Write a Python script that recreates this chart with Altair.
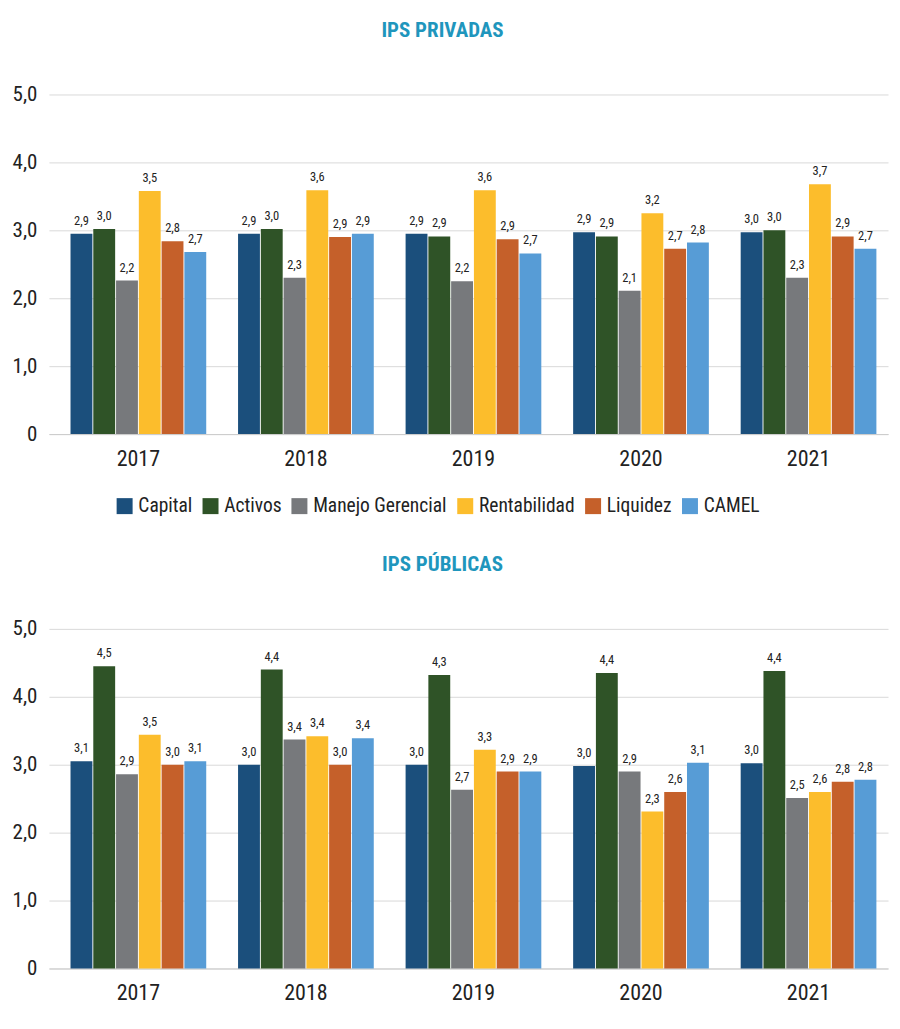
import altair as alt
import pandas as pd

years = ["2017", "2018", "2019", "2020", "2021"]
series = ["Capital", "Activos", "Manejo Gerencial", "Rentabilidad", "Liquidez", "CAMEL"]
colors = ["#1b4f7c", "#2f5327", "#77797c", "#fcbd2c", "#c5602a", "#579cd6"]

# IPS PRIVADAS
priv_capital = [2.95, 2.95, 2.95, 2.97, 2.97]
priv_activos = [3.02, 3.02, 2.91, 2.91, 3.00]
priv_gerencial = [2.26, 2.30, 2.25, 2.11, 2.30]
priv_rentab = [3.58, 3.59, 3.59, 3.25, 3.68]
priv_liquidez = [2.84, 2.90, 2.87, 2.73, 2.91]
priv_camel = [2.68, 2.95, 2.66, 2.82, 2.73]
priv_lab_capital = ["2,9", "2,9", "2,9", "2,9", "3,0"]
priv_lab_activos = ["3,0", "3,0", "2,9", "2,9", "3,0"]
priv_lab_gerencial = ["2,2", "2,3", "2,2", "2,1", "2,3"]
priv_lab_rentab = ["3,5", "3,6", "3,6", "3,2", "3,7"]
priv_lab_liquidez = ["2,8", "2,9", "2,9", "2,7", "2,9"]
priv_lab_camel = ["2,7", "2,9", "2,7", "2,8", "2,7"]

# IPS PUBLICAS
pub_capital = [3.05, 3.00, 3.00, 2.98, 3.02]
pub_activos = [4.45, 4.40, 4.32, 4.35, 4.38]
pub_gerencial = [2.86, 3.37, 2.63, 2.90, 2.51]
pub_rentab = [3.44, 3.42, 3.22, 2.31, 2.60]
pub_liquidez = [3.00, 3.00, 2.90, 2.60, 2.75]
pub_camel = [3.05, 3.39, 2.90, 3.03, 2.78]
pub_lab_capital = ["3,1", "3,0", "3,0", "3,0", "3,0"]
pub_lab_activos = ["4,5", "4,4", "4,3", "4,4", "4,4"]
pub_lab_gerencial = ["2,9", "3,4", "2,7", "2,9", "2,5"]
pub_lab_rentab = ["3,5", "3,4", "3,3", "2,3", "2,6"]
pub_lab_liquidez = ["3,0", "3,0", "2,9", "2,6", "2,8"]
pub_lab_camel = ["3,1", "3,4", "2,9", "3,1", "2,8"]

FONT = "Roboto Condensed, Liberation Sans Narrow, DejaVu Sans Condensed, Roboto, sans-serif"


def make_df(vals, labs):
    rows = []
    for s, v, l in zip(series, vals, labs):
        for y, vv, ll in zip(years, v, l):
            rows.append({"year": y, "serie": s, "valor": vv, "label": ll})
    return pd.DataFrame(rows)


df_priv = make_df(
    [priv_capital, priv_activos, priv_gerencial, priv_rentab, priv_liquidez, priv_camel],
    [priv_lab_capital, priv_lab_activos, priv_lab_gerencial, priv_lab_rentab, priv_lab_liquidez, priv_lab_camel],
)
df_pub = make_df(
    [pub_capital, pub_activos, pub_gerencial, pub_rentab, pub_liquidez, pub_camel],
    [pub_lab_capital, pub_lab_activos, pub_lab_gerencial, pub_lab_rentab, pub_lab_liquidez, pub_lab_camel],
)

ylab = "datum.value == 0 ? '0' : replace(format(datum.value, '.1f'), '.', ',')"


def panel(df, title, show_legend):
    base = alt.Chart(df).encode(
        x=alt.X(
            "year:N",
            sort=years,
            title=None,
            scale=alt.Scale(paddingInner=0.19, paddingOuter=0.099, align=0.65),
            axis=alt.Axis(
                labelAngle=0, labelFontSize=22, labelFont=FONT, labelColor="#222",
                ticks=False, domainColor="#cccccc", labelPadding=14,
            ),
        ),
        xOffset=alt.XOffset("serie:N", sort=series, scale=alt.Scale(paddingInner=0.04)),
        y=alt.Y(
            "valor:Q",
            title=None,
            scale=alt.Scale(domain=[0, 5]),
            axis=alt.Axis(
                values=[0, 1, 2, 3, 4, 5], labelExpr=ylab, labelFontSize=21, labelFont=FONT,
                labelColor="#222", ticks=False, domain=False, gridColor="#d9d9d9",
                labelPadding=12,
            ),
        ),
    )
    if show_legend:
        leg = alt.Legend(
            title=None, orient="none", direction="horizontal", legendX=66, legendY=402,
            symbolType="square", symbolSize=256, symbolStrokeWidth=0, labelFontSize=19.5,
            labelFont=FONT, labelColor="#222", columnPadding=8, symbolOffset=0,
            labelOffset=4,
        )
        color = alt.Color("serie:N", sort=series, scale=alt.Scale(domain=series, range=colors), legend=leg)
    else:
        color = alt.Color("serie:N", sort=series, scale=alt.Scale(domain=series, range=colors), legend=None)
    bars = base.mark_bar().encode(color=color)
    text = base.mark_text(baseline="bottom", dy=-6, fontSize=12.5, font=FONT, color="#222").encode(
        text="label:N"
    )
    return alt.layer(bars, text).properties(
        width=840,
        height=340,
        title=alt.TitleParams(
            title, fontSize=21, font=FONT, fontWeight="bold", color="#1f96bd", anchor="middle",
            offset=43, dx=-26,
        ),
    )


top = panel(df_priv, "IPS PRIVADAS", True)
bottom = panel(df_pub, "IPS PÚBLICAS", False)

chart = (
    alt.vconcat(top, bottom, spacing=38)
    .resolve_scale(color="independent")
    .resolve_legend(color="independent")
    .properties(padding={"left": 4, "top": 11, "right": 4, "bottom": 4})
    .configure_view(strokeWidth=0)
)

chart.save("out.html", embed_options={"renderer": "svg", "actions": False})
